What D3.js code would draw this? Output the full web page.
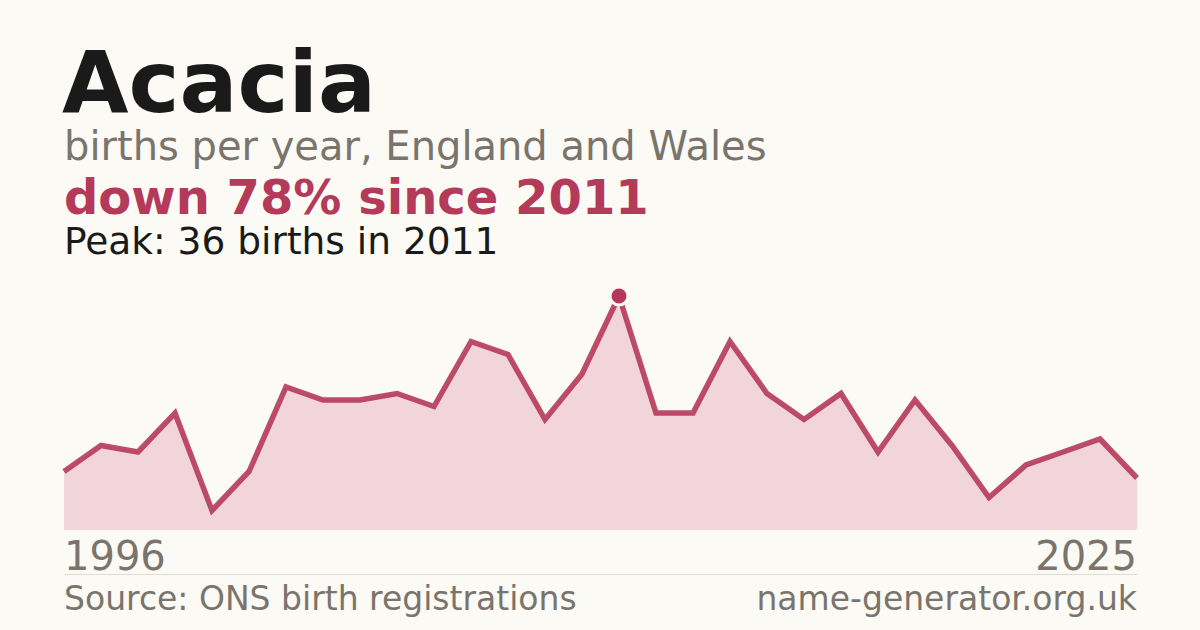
<!DOCTYPE html>
<html>
<head>
<meta charset="utf-8">
<script src="https://cdn.jsdelivr.net/npm/d3@7"></script>
<style>
  body { margin: 0; background: #fbfaf5; }
  svg { display: block; font-family: "DejaVu Sans", sans-serif; }
</style>
</head>
<body>
<svg id="chart" width="1200" height="630"></svg>
<script>
// data
var years = d3.range(1996, 2026);
var births = [9, 13, 12, 18, 3, 9, 22, 20, 20, 21, 19, 29, 27, 17, 24,
              36, 18, 18, 29, 21, 17, 21, 12, 20, 13, 5, 10, 12, 14, 8];
var peakYear = 2011;
var peakValue = 36;

var svg = d3.select("#chart");
svg.append("rect").attr("width", 1200).attr("height", 630).attr("fill", "#fbfaf5");

var plotLeft = 64, plotRight = 1137, plotTop = 296, plotBottom = 530;

var x = d3.scaleLinear().domain([1996, 2025]).range([plotLeft, plotRight]);
var y = d3.scaleLinear().domain([0, peakValue]).range([plotBottom, plotTop]);

var pts = years.map(function(yr, i) { return {year: yr, value: births[i]}; });

// area under the line
var area = d3.area()
  .x(function(d) { return x(d.year); })
  .y0(plotBottom)
  .y1(function(d) { return y(d.value); });

svg.append("path")
  .datum(pts)
  .attr("d", area)
  .attr("fill", "#f2d5da");

var line = d3.line()
  .x(function(d) { return x(d.year); })
  .y(function(d) { return y(d.value); });

svg.append("path")
  .datum(pts)
  .attr("d", line)
  .attr("fill", "none")
  .attr("stroke", "#b5385a")
  .attr("stroke-width", 5.5)
  .attr("stroke-opacity", 0.9)
  .attr("stroke-linejoin", "miter");

// peak marker
svg.append("circle")
  .attr("cx", x(peakYear))
  .attr("cy", y(peakValue))
  .attr("r", 9)
  .attr("fill", "#b5385a")
  .attr("stroke", "#fbfaf5")
  .attr("stroke-width", 3);

// titles
svg.append("text").attr("x", 62).attr("y", 112)
  .attr("font-size", 86).attr("font-weight", "bold").attr("fill", "#1a1a1a")
  .text("Acacia");
svg.append("text").attr("x", 64).attr("y", 160)
  .attr("font-size", 40).attr("fill", "#7a746c")
  .text("births per year, England and Wales");
svg.append("text").attr("x", 64).attr("y", 214)
  .attr("font-size", 48).attr("font-weight", "bold").attr("fill", "#b33a58")
  .text("down 78% since 2011");
svg.append("text").attr("x", 64).attr("y", 254)
  .attr("font-size", 37.5).attr("fill", "#1a1a1a")
  .text("Peak: " + peakValue + " births in " + peakYear);

// year labels
svg.append("text").attr("x", plotLeft).attr("y", 570)
  .attr("font-size", 40).attr("fill", "#7a746c")
  .text(years[0]);
svg.append("text").attr("x", plotRight).attr("y", 570)
  .attr("font-size", 40).attr("fill", "#7a746c").attr("text-anchor", "end")
  .text(years[years.length - 1]);

// divider + footer
svg.append("line")
  .attr("x1", plotLeft).attr("x2", plotRight).attr("y1", 574.5).attr("y2", 574.5)
  .attr("stroke", "#dedbd3").attr("stroke-width", 1);
svg.append("text").attr("x", 64).attr("y", 610)
  .attr("font-size", 33).attr("fill", "#7a746c")
  .text("Source: ONS birth registrations");
svg.append("text").attr("x", plotRight).attr("y", 610)
  .attr("font-size", 33).attr("fill", "#7a746c").attr("text-anchor", "end")
  .text("name-generator.org.uk");
</script>
</body>
</html>
